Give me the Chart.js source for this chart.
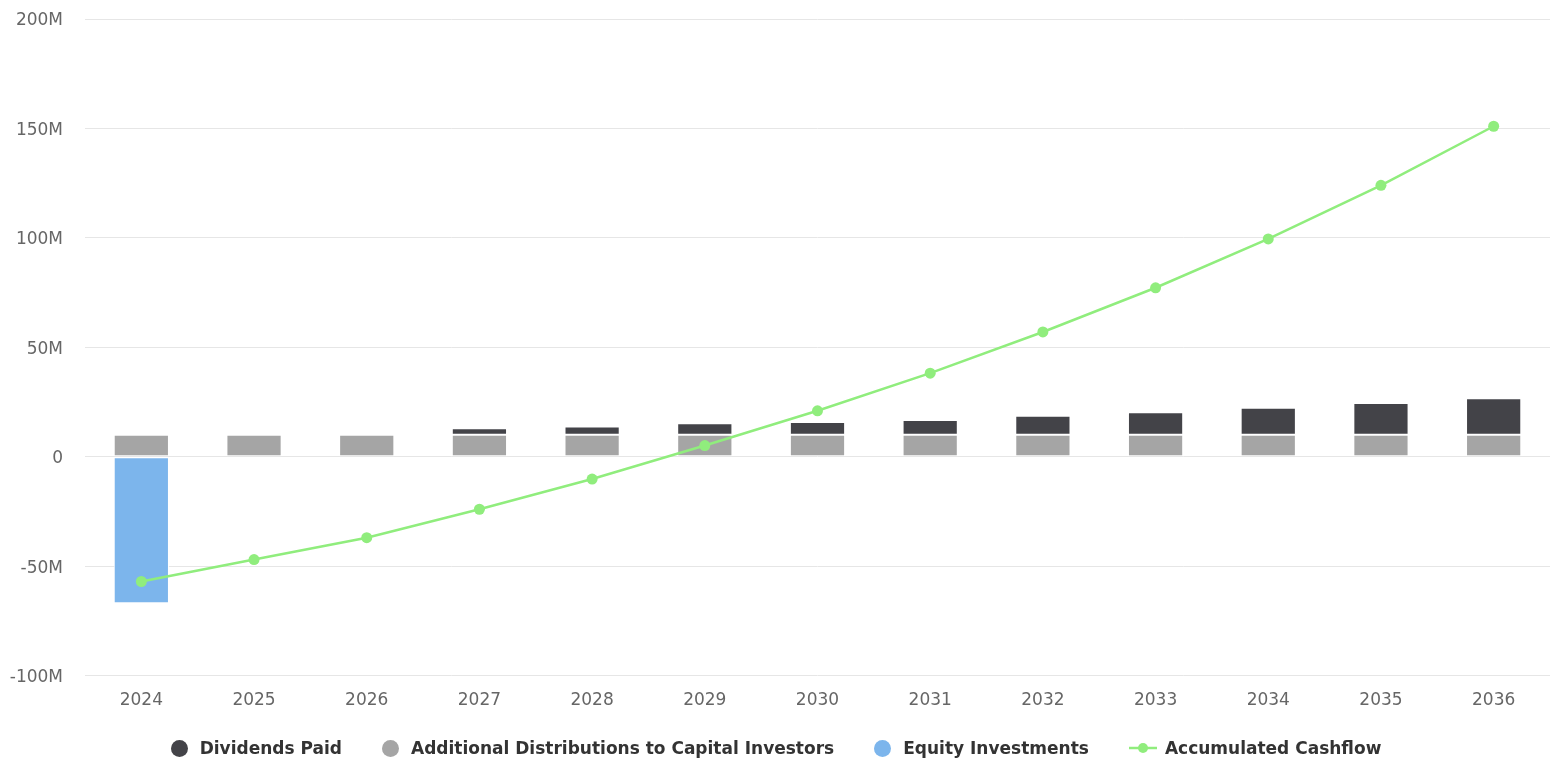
<!DOCTYPE html>
<html>
<head>
<meta charset="utf-8">
<script src="https://cdn.jsdelivr.net/npm/chart.js@4"></script>
<style>
  html, body { margin: 0; padding: 0; background: #fff; overflow: hidden; }
  #wrap { position: relative; width: 1552px; height: 762px; }
  #legend {
    position: absolute; left: 0; right: 0; top: 736px; height: 24px;
    display: flex; justify-content: center; align-items: center;
    font-family: "DejaVu Sans", sans-serif; font-weight: bold; font-size: 17px; color: #333;
  }
  .item { display: flex; align-items: center; margin: 0 20px; white-space: nowrap; }
  .dot { width: 17px; height: 17px; border-radius: 50%; margin-right: 12px; }
  .sym { margin-right: 8px; }
</style>
</head>
<body>
<div id="wrap">
  <canvas id="chart" width="1552" height="762"></canvas>
  <div id="legend"></div>
</div>
<script>
// Years on the x axis
const years = ['2024', '2025', '2026', '2027', '2028', '2029', '2030', '2031', '2032', '2033', '2034', '2035', '2036'];

// Yearly flows, in millions
const dividendsPaid = [0, 0, 0, 3.0, 3.8, 5.3, 5.9, 6.8, 8.7, 10.3, 12.4, 14.5, 16.7];
const additionalDistributions = [10, 10, 10, 10, 10, 10, 10, 10, 10, 10, 10, 10, 10];
const equityInvestments = [-67, 0, 0, 0, 0, 0, 0, 0, 0, 0, 0, 0, 0];

// Running total, in millions
const accumulatedCashflow = [-57, -47, -37, -24, -10.2, 5.1, 21, 38.2, 57, 77.2, 99.5, 124, 151];

// Y axis ticks, in millions
const yTicks = [-100, -50, 0, 50, 100, 150, 200];

const M = 1e6;
const toUnits = arr => arr.map(v => v * M);

const COLORS = {
  dividends: '#434348',
  additional: '#a5a5a5',
  equity: '#7cb5ec',
  cashflow: '#90ed7d'
};

const barStyle = {
  type: 'bar',
  borderColor: '#ffffff',
  borderWidth: 1,
  borderSkipped: false,
  barPercentage: 0.49,
  categoryPercentage: 1.0,
  stack: 'flows',
  order: 1
};

const datasets = [
  Object.assign({}, barStyle, {
    label: 'Additional Distributions to Capital Investors',
    data: toUnits(additionalDistributions),
    backgroundColor: COLORS.additional
  }),
  Object.assign({}, barStyle, {
    label: 'Dividends Paid',
    data: toUnits(dividendsPaid),
    backgroundColor: COLORS.dividends
  }),
  Object.assign({}, barStyle, {
    label: 'Equity Investments',
    data: toUnits(equityInvestments),
    backgroundColor: COLORS.equity
  }),
  {
    type: 'line',
    label: 'Accumulated Cashflow',
    data: toUnits(accumulatedCashflow),
    borderColor: COLORS.cashflow,
    backgroundColor: COLORS.cashflow,
    borderWidth: 2.5,
    pointRadius: 5.5,
    pointHoverRadius: 6,
    pointBorderWidth: 0,
    tension: 0,
    order: 0
  }
];

const legendOrder = ['Dividends Paid', 'Additional Distributions to Capital Investors', 'Equity Investments', 'Accumulated Cashflow'];

const axisFont = { family: '"DejaVu Sans", sans-serif', size: 17 };

const chart = new Chart(document.getElementById('chart'), {
  data: { labels: years, datasets: datasets },
  options: {
    responsive: false,
    animation: false,
    layout: { autoPadding: false, padding: { top: 19, right: 2, bottom: 51, left: 0 } },
    plugins: {
      legend: { display: false },
      tooltip: { enabled: false }
    },
    scales: {
      x: {
        stacked: true,
        // invisible tick marks only set the gap between the plot and the year labels
        grid: { display: true, drawOnChartArea: false, drawTicks: true, tickLength: 15, tickColor: 'rgba(0,0,0,0)', color: 'rgba(0,0,0,0)' },
        border: { display: false },
        ticks: { color: '#666666', font: axisFont, padding: 0 }
      },
      y: {
        stacked: true,
        min: yTicks[0] * M,
        max: yTicks[yTicks.length - 1] * M,
        afterFit: s => { s.width = 85; },
        afterBuildTicks: s => { s.ticks = yTicks.map(v => ({ value: v * M })); },
        grid: { color: '#e6e6e6', lineWidth: 1, drawTicks: true, tickLength: 22, tickColor: 'rgba(0,0,0,0)' },
        border: { display: false },
        ticks: {
          color: '#666666',
          font: axisFont,
          padding: 0,
          labelOffset: 2,
          callback: v => (v === 0 ? '0' : (v / M) + 'M')
        }
      }
    }
  }
});

// Legend built from the chart's datasets
const legendEl = document.getElementById('legend');
legendOrder.forEach(name => {
  const ds = chart.data.datasets.find(d => d.label === name);
  const item = document.createElement('div');
  item.className = 'item';
  if (ds.type === 'line') {
    const c = document.createElement('canvas');
    c.width = 28; c.height = 14; c.className = 'sym';
    const g = c.getContext('2d');
    g.strokeStyle = ds.borderColor; g.lineWidth = 2.5;
    g.beginPath(); g.moveTo(0, 7); g.lineTo(28, 7); g.stroke();
    g.fillStyle = ds.backgroundColor;
    g.beginPath(); g.arc(14, 7, 5, 0, Math.PI * 2); g.fill();
    item.appendChild(c);
  } else {
    const d = document.createElement('span');
    d.className = 'dot';
    d.style.background = ds.backgroundColor;
    item.appendChild(d);
  }
  const t = document.createElement('span');
  t.textContent = ds.label;
  item.appendChild(t);
  legendEl.appendChild(item);
});
</script>
</body>
</html>
